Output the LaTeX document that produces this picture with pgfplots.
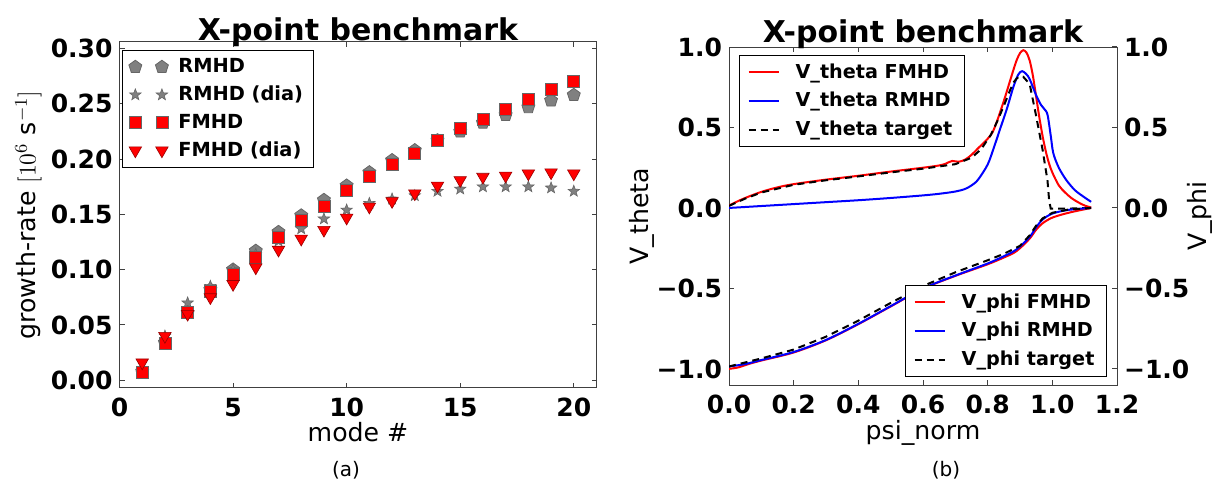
\documentclass[border=0pt]{standalone}
\usepackage{fontspec}
\setmainfont{DejaVu Sans}
\usepackage{pgfplots}
\pgfplotsset{compat=1.18}
\usetikzlibrary{plotmarks}

\definecolor{mgray}{gray}{0.5}

\pgfdeclareplotmark{fstar}{%
  \pgfpathmoveto{\pgfpointpolar{90}{\pgfplotmarksize}}%
  \pgfpathlineto{\pgfpointpolar{126}{0.42\pgfplotmarksize}}%
  \pgfpathlineto{\pgfpointpolar{162}{\pgfplotmarksize}}%
  \pgfpathlineto{\pgfpointpolar{198}{0.42\pgfplotmarksize}}%
  \pgfpathlineto{\pgfpointpolar{234}{\pgfplotmarksize}}%
  \pgfpathlineto{\pgfpointpolar{270}{0.42\pgfplotmarksize}}%
  \pgfpathlineto{\pgfpointpolar{306}{\pgfplotmarksize}}%
  \pgfpathlineto{\pgfpointpolar{342}{0.42\pgfplotmarksize}}%
  \pgfpathlineto{\pgfpointpolar{18}{\pgfplotmarksize}}%
  \pgfpathlineto{\pgfpointpolar{54}{0.42\pgfplotmarksize}}%
  \pgfpathclose
  \pgfusepathqfillstroke
}

\pgfplotsset{
  mystyle/.style={
    scale only axis,
    axis line style={black!75, line width=0.5pt},
    tick style={black!75, line width=0.5pt},
    tick align=inside,
    major tick length=2.5pt,
    tick label style={font=\fontsize{12.5}{14}\selectfont\bfseries},
    label style={font=\fontsize{12.6}{14}\selectfont},
    title style={font=\fontsize{15}{18}\selectfont\bfseries},
    legend cell align=left,
  }
}

\pgfplotstableread{
x pent star sq tri
1 0.008 0.006 0.007 0.016
2 0.034 0.040 0.033 0.040
3 0.061 0.070 0.061 0.060
4 0.082 0.085 0.080 0.075
5 0.100 0.100 0.096 0.087
6 0.117 0.114 0.111 0.102
7 0.134 0.126 0.129 0.118
8 0.149 0.137 0.145 0.128
9 0.163 0.146 0.157 0.136
10 0.176 0.154 0.172 0.147
11 0.188 0.160 0.184 0.157
12 0.199 0.164 0.195 0.162
13 0.208 0.167 0.205 0.169
14 0.217 0.171 0.217 0.176
15 0.225 0.173 0.228 0.181
16 0.233 0.175 0.236 0.184
17 0.240 0.175 0.245 0.185
18 0.247 0.175 0.254 0.187
19 0.253 0.174 0.263 0.188
20 0.258 0.171 0.270 0.187
}\growth

\begin{document}
\begin{tikzpicture}
\path[use as bounding box] (0,0) rectangle (607.5pt,243.5pt);

% ---------------- left panel ----------------
\begin{axis}[mystyle,
  at={(59.75pt,49.5pt)}, anchor=south west,
  width=238.5pt, height=173pt,
  xmin=0, xmax=21, ymin=-0.007, ymax=0.306,
  xtick={0,5,10,15,20}, xticklabels={0,5,10,15,20},
  ytick={0,0.05,0.1,0.15,0.2,0.25,0.3},
  yticklabels={0.00,0.05,0.10,0.15,0.20,0.25,0.30},
  xticklabel style={yshift=-1.5pt},
  xlabel={mode \#},
  ylabel={growth-rate $[10^{6}$ s$^{-1}]$},
  xlabel style={at={(axis description cs:0.5,0)}, anchor=center, yshift=-22pt},
  ylabel style={at={(axis description cs:0,0.5)}, anchor=center, yshift=45.5pt},
  title={X-point benchmark},
  title style={at={(0.5,1)}, anchor=base, yshift=-5.5pt},
  legend style={at={(0.006,0.977)}, anchor=north west, draw=black, line width=0.5pt,
    font=\fontsize{9.7}{11}\selectfont\bfseries, row sep=1.2pt, inner xsep=3pt, inner ysep=2pt,
    /tikz/every odd column/.append style={column sep=3pt}},
  legend image code/.code={\draw[mark repeat=1] plot coordinates {(0pt,0pt) (13.3pt,0pt)};},
]
\addplot[only marks, mark=pentagon*, mark size=3.4pt, mark options={fill=mgray, draw=black!60, line width=0.4pt}]
  table[x=x, y=pent] {\growth};
\addlegendentry{RMHD}
\addplot[only marks, mark=fstar, mark size=3pt, mark options={fill=mgray, draw=black!60, line width=0.3pt}]
  table[x=x, y=star] {\growth};
\addlegendentry{RMHD (dia)}
\addplot[only marks, mark=square*, mark size=3pt, mark options={fill=red, draw=black!60, line width=0.4pt}]
  table[x=x, y=sq] {\growth};
\addlegendentry{FMHD}
\addplot[only marks, mark=triangle*, mark size=3.6pt, mark options={fill=red, draw=red!60!black, line width=0.3pt, rotate=180}]
  table[x=x, y=tri] {\growth};
\addlegendentry{FMHD (dia)}
\end{axis}

% ---------------- right panel: V_theta ----------------
\begin{axis}[mystyle,
  at={(364.5pt,51pt)}, anchor=south west,
  width=194pt, height=169pt,
  xmin=0, xmax=1.2, ymin=-1.1, ymax=1.0,
  xtick={0,0.2,0.4,0.6,0.8,1.0,1.2},
  xticklabels={0.0,0.2,0.4,0.6,0.8,1.0,1.2},
  ytick={-1,-0.5,0,0.5,1}, yticklabels={−1.0,−0.5,0.0,0.5,1.0},
  ytick pos=left,
  xticklabel style={yshift=-1.5pt},
  xlabel={psi\_norm},
  ylabel={V\_theta},
  xlabel style={at={(axis description cs:0.5,0)}, anchor=center, yshift=-24pt},
  ylabel style={at={(axis description cs:0,0.5)}, anchor=center, yshift=43.6pt},
  title={X-point benchmark},
  title style={at={(0.5,1)}, anchor=base, yshift=-3.5pt},
  legend style={at={(0.026,0.976)}, anchor=north west, draw=black, line width=0.5pt,
    font=\fontsize{9.6}{11}\selectfont\bfseries, row sep=1.5pt, inner xsep=4pt, inner ysep=2pt,
    /tikz/every odd column/.append style={column sep=6pt}},
  legend image code/.code={\draw (0pt,0pt) -- (15pt,0pt);},
]
\addplot[red, line width=1pt, smooth] coordinates {
(0.00,0.015) (0.02,0.035) (0.05,0.062) (0.10,0.100) (0.15,0.128) (0.20,0.148)
(0.30,0.176) (0.40,0.200) (0.50,0.226) (0.60,0.250) (0.65,0.264) (0.67,0.275)
(0.69,0.292) (0.71,0.287) (0.73,0.300) (0.75,0.330) (0.77,0.370) (0.80,0.430)
(0.815,0.470) (0.83,0.545) (0.85,0.665) (0.87,0.795) (0.88,0.860) (0.89,0.920)
(0.90,0.962) (0.91,0.980) (0.92,0.965) (0.93,0.915) (0.94,0.820) (0.95,0.690)
(0.96,0.560) (0.97,0.445) (0.98,0.350) (0.99,0.275) (1.00,0.220) (1.02,0.140)
(1.04,0.095) (1.06,0.060) (1.08,0.035) (1.10,0.015) (1.12,0.003)};
\addlegendentry{V\_theta FMHD}
\addplot[blue, line width=1pt, smooth] coordinates {
(0.00,0.000) (0.10,0.012) (0.20,0.024) (0.30,0.036) (0.40,0.048) (0.50,0.062)
(0.60,0.078) (0.65,0.088) (0.70,0.102) (0.73,0.118) (0.75,0.140) (0.77,0.175)
(0.80,0.270) (0.82,0.380) (0.84,0.500) (0.86,0.620) (0.88,0.755) (0.895,0.830)
(0.907,0.850) (0.92,0.830) (0.93,0.800) (0.95,0.700) (0.965,0.640) (0.975,0.615)
(0.985,0.580) (0.995,0.450) (1.003,0.340) (1.02,0.250) (1.043,0.174) (1.07,0.110)
(1.10,0.065) (1.12,0.038)};
\addlegendentry{V\_theta RMHD}
\addplot[black, line width=1pt, dash pattern=on 3.5pt off 2.5pt] coordinates {
(0.00,0.013) (0.05,0.058) (0.10,0.096) (0.20,0.144) (0.30,0.172) (0.40,0.196)
(0.50,0.221) (0.60,0.244) (0.70,0.272) (0.75,0.312) (0.78,0.365) (0.81,0.455)
(0.83,0.540) (0.85,0.635) (0.87,0.735) (0.88,0.780) (0.89,0.805) (0.90,0.820)
(0.91,0.815) (0.93,0.770) (0.95,0.570) (0.97,0.360) (0.985,0.170) (0.99,0.050)
(0.995,-0.004) (1.05,-0.004) (1.12,0.000)};
\addlegendentry{V\_theta target}
\end{axis}

% ---------------- right panel: V_phi (twin axis) ----------------
\begin{axis}[mystyle,
  at={(364.5pt,51pt)}, anchor=south west,
  width=194pt, height=169pt,
  xmin=0, xmax=1.2, ymin=-1.1, ymax=1.0,
  axis x line=none,
  axis y line*=right,
  ytick={-1,-0.5,0,0.5,1}, yticklabels={−1.0,−0.5,0.0,0.5,1.0},
  ylabel={V\_phi},
  ylabel style={at={(axis description cs:1,0.5)}, anchor=center, yshift=-41.5pt},
  legend style={at={(0.974,0.024)}, anchor=south east, draw=black, line width=0.5pt,
    font=\fontsize{9.6}{11}\selectfont\bfseries, row sep=1.5pt, inner xsep=4pt, inner ysep=2pt,
    /tikz/every odd column/.append style={column sep=6pt}},
  legend image code/.code={\draw (0pt,0pt) -- (15pt,0pt);},
]
\addplot[red, line width=1pt, smooth] coordinates {
(0.00,-1.000) (0.03,-0.990) (0.06,-0.970) (0.10,-0.948) (0.20,-0.898) (0.30,-0.822)
(0.40,-0.722) (0.50,-0.612) (0.60,-0.502) (0.70,-0.422) (0.80,-0.350) (0.85,-0.308)
(0.88,-0.280) (0.90,-0.250) (0.93,-0.190) (0.95,-0.135) (0.97,-0.095) (1.00,-0.060)
(1.05,-0.030) (1.12,0.000)};
\addlegendentry{V\_phi FMHD}
\addplot[blue, line width=1pt, smooth] coordinates {
(0.00,-0.985) (0.05,-0.970) (0.10,-0.945) (0.20,-0.895) (0.30,-0.820) (0.40,-0.720)
(0.50,-0.610) (0.60,-0.500) (0.70,-0.420) (0.80,-0.345) (0.85,-0.300) (0.88,-0.270)
(0.90,-0.240) (0.93,-0.180) (0.95,-0.120) (0.97,-0.072) (1.00,-0.035) (1.05,-0.012)
(1.12,0.000)};
\addlegendentry{V\_phi RMHD}
\addplot[black, line width=1pt, dash pattern=on 3.5pt off 2.5pt] coordinates {
(0.00,-0.985) (0.10,-0.935) (0.20,-0.880) (0.30,-0.800) (0.40,-0.700) (0.50,-0.590)
(0.60,-0.485) (0.70,-0.400) (0.80,-0.325) (0.85,-0.285) (0.90,-0.235) (0.93,-0.170)
(0.95,-0.110) (0.97,-0.065) (1.00,-0.030) (1.05,-0.010) (1.12,0.000)};
\addlegendentry{V\_phi target}
\end{axis}

\node[font=\fontsize{10}{12}\selectfont] at (173pt,8.5pt) {(a)};
\node[font=\fontsize{10}{12}\selectfont] at (473pt,8.5pt) {(b)};
\end{tikzpicture}
\end{document}
